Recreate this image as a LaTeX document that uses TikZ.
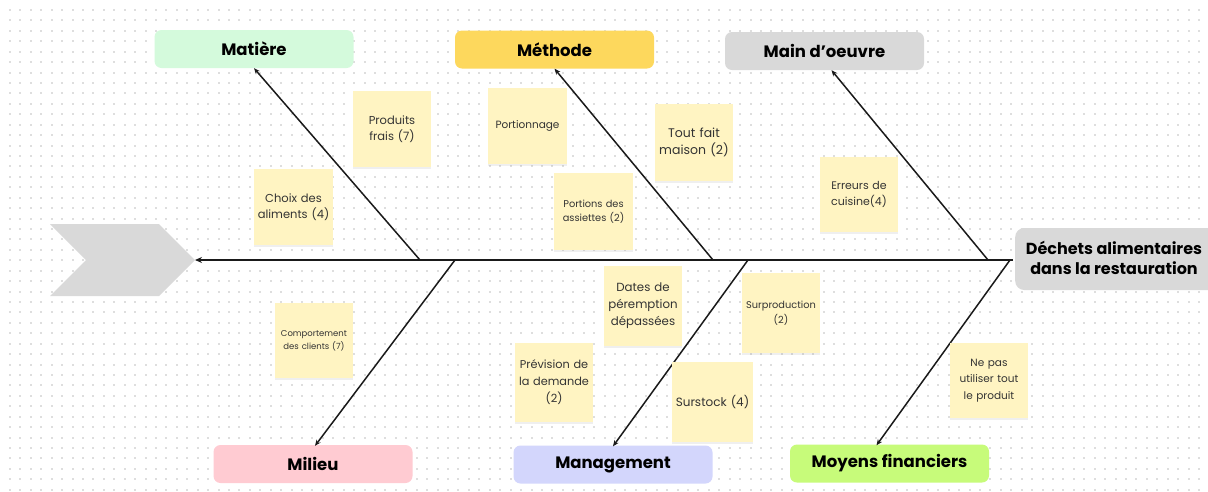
\documentclass[tikz,border=0pt]{standalone}
\usepackage{fontspec}
\setmainfont{Poppins}
\usetikzlibrary{arrows.meta,calc,shadows}
\definecolor{dotc}{HTML}{DEDEDE}
\definecolor{notefill}{HTML}{FFF4C2}
\definecolor{notetext}{HTML}{333333}
\definecolor{cgreen}{HTML}{D4FADC}
\definecolor{cyellow}{HTML}{FDD85D}
\definecolor{cgray}{HTML}{D9D9D9}
\definecolor{cpink}{HTML}{FFCBD2}
\definecolor{clav}{HTML}{D3D6FC}
\definecolor{clime}{HTML}{C7FB7A}
\definecolor{chev}{HTML}{D9D9D9}
\definecolor{linec}{HTML}{1A1A1A}
\newcommand{\fs}[2]{\fontsize{#1}{#2}\selectfont}
\begin{document}
\begin{tikzpicture}[x=1pt,y=-1pt,
  catbox/.style={fill=#1, rounded corners=7pt, minimum width=199pt, minimum height=38pt,
    inner sep=0pt, font=\fontsize{16.5}{19}\selectfont\bfseries, text=black},
  note/.style={fill=notefill, minimum width=78pt, minimum height=76pt, inner sep=0pt,
    text width=76pt, align=center, text=notetext,
    drop shadow={shadow xshift=0pt, shadow yshift=-1.5pt, opacity=0.12}},
  bone/.style={draw=linec, line width=1.5pt, -{Stealth[length=6pt,width=5pt]}},
]
\useasboundingbox (0,0) rectangle (1208,491);
\clip (0,0) rectangle (1208,491);
\fill[white] (0,0) rectangle (1208,491);
% dotted background
\foreach \i in {0,...,115} {
  \foreach \j in {0,...,46} {
    \fill[dotc] ({9+\i*10.43},{9+\j*10.43}) rectangle ++(2,2);
  }
}
% chevron
\coordinate (tail) at (195,260);
\fill[chev] (50,224) -- (159,224) -- (tail) -- (159,296) -- (50,296) -- (86,260) -- cycle;

% category boxes
\node[catbox=cgreen]  (mat)  at (254,49)    {Matière};
\node[catbox=cyellow] (meth) at (554.5,49.5) {Méthode};
\node[catbox=cgray]   (main) at (824.5,51)  {Main d’oeuvre};
\node[catbox=cpink]   (mil)  at (313,464)   {Milieu};
\node[catbox=clav]    (mgmt) at (613,464.5) {Management};
\node[catbox=clime]   (moy)  at (889.5,463.5) {Moyens financiers};
\node[fill=cgray, rounded corners=9pt, minimum width=215pt, minimum height=62pt, inner sep=0pt,
  anchor=west] (dech) at (1015,259) {};
\node[font=\fontsize{16}{20}\selectfont\bfseries, align=center, text=black] (dechtxt) at (1114,258)
  {Déchets alimentaires\\dans la restauration};

% spine
\coordinate (head) at (1013,260);
\draw[draw=linec, line width=1.8pt, -{Stealth[length=7pt,width=6pt]}] (head) -- (tail);

% bones
\coordinate (b1) at (420,260);
\coordinate (b2) at (713,260);
\coordinate (b3) at (988,260);
\coordinate (b4) at (455,260);
\coordinate (b5) at (748,260);
\coordinate (b6) at (1010,260);
\draw[bone] (b1) -- (mat.south);
\draw[bone] (b2) -- (meth.south);
\draw[bone] (b3) -- ($(main.south)+(7,0)$);
\draw[bone] (b4) -- ($(mil.north)+(2,1)$);
\draw[bone] (b5) -- ($(mgmt.north)+(0,1)$);
\draw[bone] (b6) -- ($(moy.north)+(-13,1)$);

% notes
\node[note, font=\fs{11.5}{16.5}] (prod) at (392,129) {Produits\\frais (7)};
\node[note, font=\fs{11.5}{16.5}, minimum width=79pt] (choix) at (293.5,207) {Choix des\\aliments (4)};
\node[note, font=\fs{10.5}{14}, minimum width=79pt] (portn) at (527.5,126) {Portionnage};
\node[note, font=\fs{9.8}{14.5}, minimum width=79pt, minimum height=77pt] (portass) at (593.5,211.5) {Portions des\\assiettes (2)};
\node[note, font=\fs{12.5}{17}, minimum height=77pt] (tout) at (694,142.5) {Tout fait\\maison (2)};
\node[note, font=\fs{11}{16.5}, minimum height=75pt] (err) at (859,194.5) {Erreurs de\\cuisine(4)};
\node[note, font=\fs{8.5}{13}, minimum height=75pt] (comp) at (314,340.5) {Comportement\\des clients (7)};
\node[note, font=\fs{11.8}{17}, minimum height=80pt] (dates) at (643,306) {Dates de\\péremption\\dépassées};
\node[note, font=\fs{9.8}{14.5}, minimum height=80pt] (surp) at (781,313) {Surproduction\\(2)};
\node[note, font=\fs{11.3}{17}, minimum height=79pt] (prev) at (554,382.5) {Prévision de\\la demande\\(2)};
\node[note, font=\fs{12}{16}, minimum width=81pt, minimum height=80pt] (surst) at (712.5,402) {Surstock (4)};
\node[note, font=\fs{10.5}{16.5}, minimum height=75pt] (nepas) at (989,380.5) {Ne pas\\utiliser tout\\le produit};
\end{tikzpicture}
\end{document}
